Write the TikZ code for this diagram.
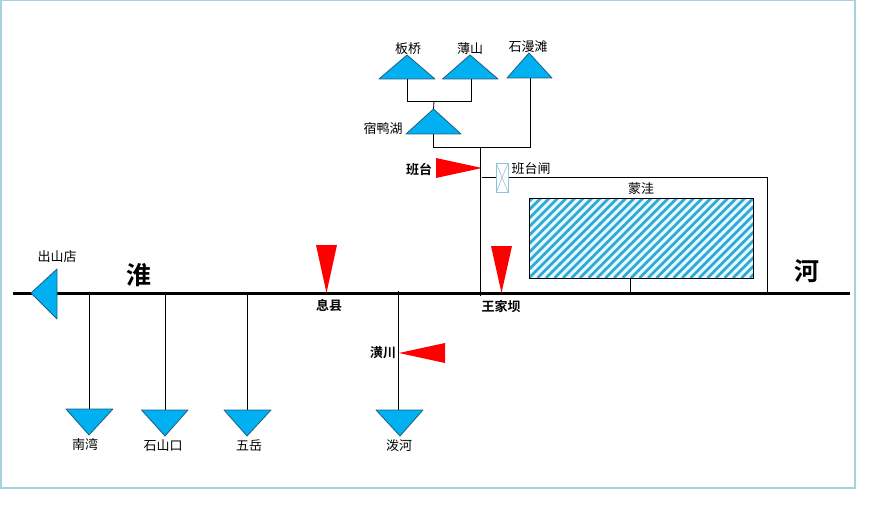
\documentclass[tikz,border=0pt]{standalone}
\usepackage{fontspec}
\setmainfont{Noto Sans CJK SC}[BoldFont={* Bold}]
\definecolor{tri}{HTML}{00B0F0}
\definecolor{triline}{HTML}{1F5F7F}
\definecolor{frame}{HTML}{A9D0DF}
\definecolor{hatch}{HTML}{2FA8D5}
\definecolor{hatchbg}{HTML}{E4F8FD}
\definecolor{gate}{HTML}{8FC4D8}
\tikzset{
  x=1pt,y=-1pt,
  station/.style={draw=triline,fill=tri,line width=0.8pt,line join=round},
  redtri/.style={fill=red,draw=none},
  link/.style={draw=black,line width=0.8pt},
  river/.style={draw=black,line width=3pt},
  lab/.style={font=\fontsize{13}{13}\selectfont,inner sep=0pt,text=black,yshift=-1pt},
  blab/.style={font=\fontsize{13}{13}\selectfont\bfseries,inner sep=0pt,text=black,yshift=-1pt},
  big/.style={font=\fontsize{25}{25}\selectfont\bfseries,inner sep=0pt,text=black},
}
\begin{document}
\begin{tikzpicture}
\useasboundingbox (0,0) rectangle (874,505);
\fill[white] (0,0) rectangle (874,505);
\draw[frame,line width=1.2pt] (1,0.5) rectangle (855,488);
% key points
\coordinate (rw) at (13,293); \coordinate (re) at (850,293);
\coordinate (bq) at (407,79); \coordinate (bs) at (471,79);
\coordinate (sm) at (530,78); \coordinate (sy) at (433.5,134);
\coordinate (syT) at (433.5,109); \coordinate (jn) at (434,101);
\coordinate (j2) at (480.5,147);
\coordinate (main) at (480.5,296);
\coordinate (gl) at (482,177.5); \coordinate (gc) at (767,177.5); \coordinate (gd) at (767,293);
\coordinate (mw) at (630,278); \coordinate (mwd) at (630,293);
\coordinate (nw) at (89.5,293); \coordinate (nwT) at (89.5,409);
\coordinate (ss) at (165,293); \coordinate (ssT) at (165,410);
\coordinate (wy) at (247,293); \coordinate (wyT) at (247,410);
\coordinate (ph) at (398,291); \coordinate (phT) at (398,410);
% connectors
\draw[link] (bq) -- (bq |- jn) -- (bs |- jn) -- (bs);
\draw[link] (jn) -- (syT);
\draw[link] (sy) -- (sy |- j2) -- (sm |- j2) -- (sm);
\draw[link] (j2) -- (main);
\draw[link] (gl) -- (gc) -- (gd);
\draw[link] (mw) -- (mwd);
\draw[link] (nw) -- (nwT);
\draw[link] (ss) -- (ssT);
\draw[link] (wy) -- (wyT);
\draw[link] (ph) -- (phT);
\draw[river] (rw) -- (re);
% up triangles
\draw[station] (379,79) -- (407,55) -- (435,79) -- cycle;
\draw[station] (442.5,79) -- (470,55) -- (498,79) -- cycle;
\draw[station] (507,78) -- (529,53) -- (552,78) -- cycle;
\draw[station] (406,134) -- (433.5,109) -- (461,134) -- cycle;
% left triangle
\draw[station] (31,293) -- (57,269) -- (57,319) -- cycle;
% down triangles
\draw[station] (66,409) -- (113,409) -- (89,435) -- cycle;
\draw[station] (141.5,410) -- (188,410) -- (165,436) -- cycle;
\draw[station] (224,410) -- (271,410) -- (247,436) -- cycle;
\draw[station] (376,410) -- (423,410) -- (400,436) -- cycle;
% red triangles
\fill[redtri] (436,158) -- (436,178) -- (482,168) -- cycle;
\fill[redtri] (316,245) -- (337,245) -- (326.5,293) -- cycle;
\fill[redtri] (491,246) -- (512,246) -- (501.5,293) -- cycle;
\fill[redtri] (399,353) -- (445,343) -- (445,363) -- cycle;
% gate
\draw[gate,fill=white,line width=0.8pt] (496.5,163.5) rectangle (508,192);
\draw[gate,line width=0.6pt] (496.5,163.5) -- (502,177.5) -- (508,163.5) (496.5,192) -- (502,177.5) -- (508,192);
% hatched basin
\fill[hatchbg] (529,198) rectangle (753.5,278);
\begin{scope}
\clip (529,198) rectangle (753.5,278);
\foreach \k in {0,...,40}{
  \draw[hatch,line width=2.8pt] ({529+\k*8.5-85},278) -- ({529+\k*8.5-5},198);
}
\end{scope}
\draw[black,line width=0.9pt] (529,198) rectangle (753.5,278);
% labels
\node[lab] (tbq) at (408,48) {板桥};
\node[lab] (tbs) at (470,48) {薄山};
\node[lab] (tsm) at (528,46) {石漫滩};
\node[lab] (tsy) at (383,128) {宿鸭湖};
\node[blab] (tbt) at (419,168) {班台};
\node[lab] (tbz) at (531,168) {班台闸};
\node[lab] (tmw) at (641,188) {蒙洼};
\node[lab] (tcs) at (57,256) {出山店};
\node[big] (th) at (139,275) {淮};
\node[big] (tr) at (807,271) {河};
\node[blab] (txx) at (329,304) {息县};
\node[blab] (twj) at (501,305) {王家坝};
\node[blab] (thc) at (383,352) {潢川};
\node[lab] (tnw) at (85,443) {南湾};
\node[lab] (tss) at (163,445) {石山口};
\node[lab] (twy) at (249,445) {五岳};
\node[lab] (tph) at (399,445) {泼河};
\end{tikzpicture}
\end{document}
